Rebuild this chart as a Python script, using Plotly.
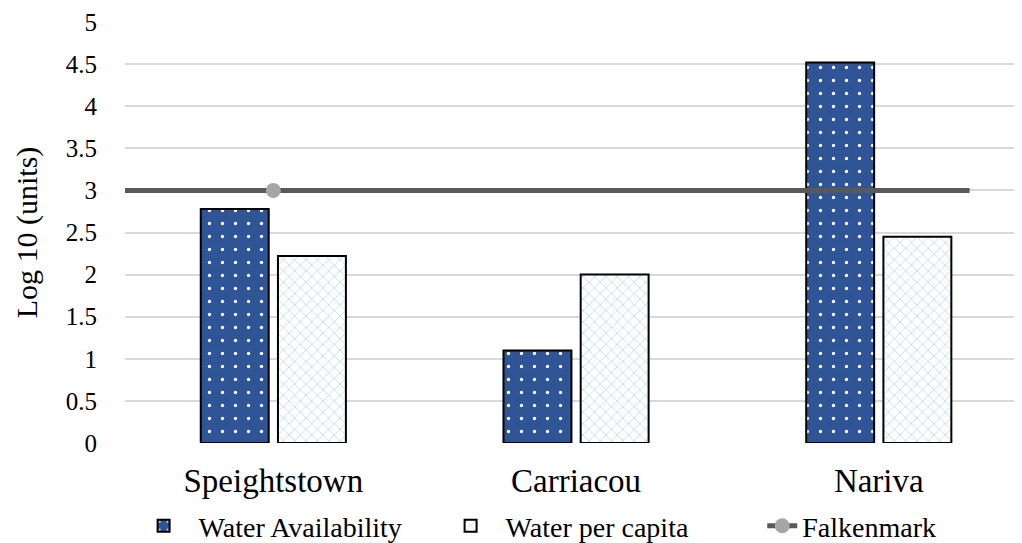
import plotly.graph_objects as go

categories = ["Speightstown", "Carriacou", "Nariva"]
water_availability = [2.78, 1.10, 4.52]
water_per_capita = [2.22, 2.00, 2.45]
falkenmark_value = 3
y_ticks = [0, 0.5, 1, 1.5, 2, 2.5, 3, 3.5, 4, 4.5, 5]

xpos = list(range(len(categories)))
font_family = "Liberation Serif"

fig = go.Figure()
fig.add_trace(go.Bar(
    x=xpos, y=water_availability, name="Water Availability",
    marker=dict(color="#2F5597", line=dict(color="#000000", width=2),
                pattern=dict(shape=".", fgcolor="#FFFFFF", bgcolor="#2F5597",
                             size=13, solidity=0.05, fillmode="replace")),
    legend="legend",
))
fig.add_trace(go.Bar(
    x=xpos, y=water_per_capita, name="Water per capita",
    marker=dict(color="#FFFFFF", line=dict(color="#000000", width=2),
                pattern=dict(shape="x", fgcolor="#A9CBEB", bgcolor="#FFFFFF",
                             size=8, solidity=0.15, fillmode="replace")),
    legend="legend",
))
# Falkenmark threshold line across the plot
fig.add_trace(go.Scatter(
    x=[-0.49, 2.30], y=[falkenmark_value, falkenmark_value],
    mode="lines", line=dict(color="#595959", width=5),
    showlegend=False, hoverinfo="skip",
))
fig.add_trace(go.Scatter(
    x=[xpos[0]], y=[falkenmark_value], name="Falkenmark",
    mode="lines+markers", line=dict(color="#595959", width=5),
    marker=dict(color="#A6A6A6", size=15),
    legend="legend2",
))

legend_font = dict(size=28, family=font_family)
fig.update_layout(
    width=1022, height=543,
    paper_bgcolor="white", plot_bgcolor="white",
    margin=dict(l=117, r=15, t=14, b=108, autoexpand=False),
    barmode="group", bargap=0.49, bargroupgap=0.12,
    font=dict(family=font_family, color="#000000"),
    legend=dict(orientation="h", x=0.118, xanchor="left", xref="container",
                y=0.046, yanchor="middle", yref="container",
                font=legend_font, traceorder="normal",
                itemwidth=60, entrywidth=232),
    legend2=dict(orientation="h", x=0.738, xanchor="left", xref="container",
                 y=0.046, yanchor="middle", yref="container",
                 font=legend_font, itemwidth=30),
    showlegend=True,
)
fig.update_xaxes(
    range=[-0.49, 2.45], tickvals=xpos, ticktext=categories,
    tickfont=dict(size=33, family=font_family), showgrid=False, zeroline=False,
    showline=False, ticks="", ticklen=0, automargin=False, ticklabelstandoff=15,
)
fig.update_yaxes(
    range=[0, 5], tickvals=y_ticks, ticktext=[str(t) for t in y_ticks],
    tickfont=dict(size=25, family=font_family), showgrid=True, gridcolor="#D9D9D9",
    gridwidth=1.5, zeroline=False, showline=False,
    ticks="outside", ticklen=22, tickcolor="rgba(0,0,0,0)",
    automargin=False,
    title=dict(text="Log 10 (units)", font=dict(size=30, family=font_family), standoff=19),
)

fig.write_html("out.html")
